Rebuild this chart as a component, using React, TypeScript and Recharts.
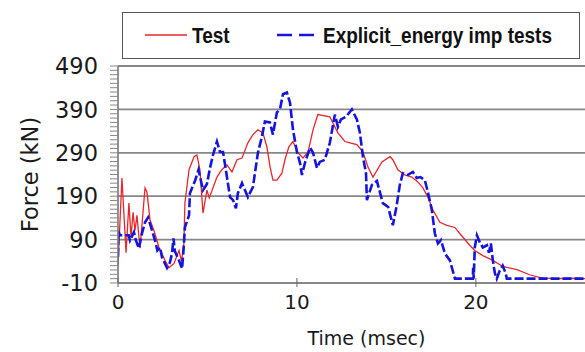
import { LineChart, Line, XAxis, YAxis, ReferenceLine, Legend } from 'recharts'

// measured impact force, test vs explicit simulation (time in msec, force in kN)
const testTime = [
  0, 0.22, 0.45, 0.61, 0.73, 0.84, 0.95, 1.06, 1.23, 1.51, 1.62, 1.79, 2.01, 2.29, 2.63, 2.85,
  3.13, 3.41, 3.55, 3.68, 3.74, 3.97, 4.25, 4.41, 4.58, 4.75, 4.97, 5.1, 5.53, 5.8, 6.09, 6.37,
  6.65, 6.93, 7.26, 7.54, 7.82, 8.1, 8.32, 8.5, 8.66, 8.88, 9.16, 9.33, 9.55, 9.78, 10.06, 10.34,
  10.62, 10.9, 11.17, 11.84, 12.0, 12.29, 12.68, 12.96, 13.35, 13.69, 13.97, 14.25, 14.75, 15.2,
  15.36, 15.64, 16.03, 16.42, 16.76, 17.04, 17.32, 17.6, 17.99, 18.38, 18.83, 19.1, 19.66, 19.94,
  20.39, 20.95, 21.5, 22.3, 23.0, 23.7, 24.5, 25.3, 26.1,
]
const testForce = [
  30, 232, 60, 174, 95, 153, 111, 146, 70, 209, 199, 135, 111, 72, 42, 25,
  35, 65, 40, 80, 174, 251, 281, 285, 251, 151, 204, 186, 234, 251, 262, 246,
  274, 278, 313, 332, 343, 336, 304, 257, 227, 227, 243, 274, 304, 316, 290, 278,
  292, 343, 378, 373, 360, 336, 316, 313, 309, 292, 257, 234, 269, 281,
  274, 251, 239, 234, 223, 209, 188, 158, 130, 123, 118, 104, 77, 65,
  53, 42, 28, 21, 9, 1, 0, 1, 0,
]

const explicitTime = [
  0, 0.02, 0.1, 0.6, 0.67, 0.89, 1.0, 1.17, 1.34, 1.51, 1.68, 1.85, 2.07, 2.2, 2.35, 2.46,
  2.74, 2.9, 3.02, 3.1, 3.18, 3.41, 3.58, 3.66, 3.74, 3.97, 4.02, 4.3, 4.5, 4.75, 4.97, 5.14,
  5.31, 5.53, 5.7, 5.87, 6.09, 6.26, 6.43, 6.59, 6.7, 6.93, 7.26, 7.54, 7.82, 8.04, 8.21, 8.49,
  8.66, 8.88, 9.05, 9.22, 9.44, 9.61, 9.78, 10.0, 10.17, 10.28, 10.45, 10.73, 10.9, 11.12, 11.28,
  11.56, 11.84, 12.12, 12.29, 12.46, 12.74, 13.07, 13.35, 13.52, 13.69, 13.86, 13.91, 14.19,
  14.47, 14.8, 15.1, 15.36, 15.56, 15.75, 15.92, 16.2, 16.48, 16.7, 16.9, 17.15, 17.32, 17.54,
  17.71, 17.88, 18.05, 18.27, 18.55, 18.83, 19.83, 19.85, 19.88, 19.94, 20.06, 20.23, 20.39,
  20.62, 20.73, 20.84, 20.95, 21.06, 21.17, 21.34, 21.5, 21.67, 21.73, 26.1,
]
const explicitForce = [
  50, 110, 100, 100, 88, 107, 88, 70, 104, 130, 141, 118, 88, 65, 72, 49,
  25, 37, 58, 93, 63, 42, 23, 65, 118, 146, 197, 225, 251, 204, 218, 255,
  285, 316, 292, 292, 234, 188, 181, 162, 197, 220, 188, 211, 290, 327, 362, 360,
  332, 383, 390, 425, 429, 406, 343, 292, 267, 239, 267, 302, 290, 255, 269,
  274, 313, 378, 350, 367, 373, 390, 367, 336, 281, 243, 181, 216,
  225, 174, 165, 123, 165, 216, 243, 239, 246, 232, 234, 227, 199, 158,
  104, 81, 89, 58, 42, 0, 0, 25, 0, 72, 100, 83, 72,
  77, 60, 81, 42, 13, 0, 19, 30, 12, 0, 0,
]

const testData = testTime.map((t, i) => ({ t, force: testForce[i] }))
const explicitData = explicitTime.map((t, i) => ({ t, force: explicitForce[i] }))

const forceTicks = [-10, 90, 190, 290, 390, 490]
const minorForceTicks = Array.from({ length: 51 }, (_, i) => -10 + i * 10)
const timeTicks = [0, 10, 20]

const series = [
  { name: 'Test', color: '#e8262b', width: 1.3, dash: undefined, data: testData },
  { name: 'Explicit_energy imp tests', color: '#1414dc', width: 2.6, dash: '9 3', data: explicitData },
]

const GRID = '#878787'
const AXIS_FONT = '"DejaVu Sans", Verdana, sans-serif'

function ForceTick({ x, y, payload }: any) {
  const major = forceTicks.includes(payload.value)
  return (
    <g>
      <line x1={x - 8} x2={x} y1={y} y2={y} stroke={GRID} strokeWidth={1} />
      {major && (
        <text x={x - 20} y={y} dy="0.36em" textAnchor="end" fontFamily={AXIS_FONT} fontSize={22.5} fill="#1a1a1a">
          {payload.value}
        </text>
      )}
    </g>
  )
}

function TimeTick({ x, y, payload }: any) {
  return (
    <g>
      <line x1={x} x2={x} y1={y - 5} y2={y + 4} stroke="#666" strokeWidth={1} />
      <text x={x} y={y + 26} textAnchor="middle" fontFamily={AXIS_FONT} fontSize={20} fill="#1a1a1a">
        {payload.value}
      </text>
    </g>
  )
}

function LegendBox() {
  const font = '"Liberation Sans", Arial, sans-serif'
  return (
    <svg width={460} height={48} style={{ display: 'block' }}>
      <rect x={0.5} y={0.5} width={457} height={46} fill="#fff" stroke="#555" />
      <line x1={23} x2={65} y1={23} y2={23} stroke={series[0].color} strokeWidth={1.3} />
      <text transform="translate(70,31) scale(1,1.18)" fontFamily={font} fontWeight="bold" fontSize={19} fill="#111">
        {series[0].name}
      </text>
      <line x1={155} x2={198} y1={23} y2={23} stroke={series[1].color} strokeWidth={2.6} strokeDasharray="15 7" />
      <text transform="translate(201,31) scale(1,1.18)" fontFamily={font} fontWeight="bold" fontSize={19} fill="#111">
        {series[1].name}
      </text>
    </svg>
  )
}

export default function App() {
  return (
    <div style={{ position: 'absolute', left: 0, top: 0, width: 585, height: 352, background: '#fff' }}>
      <LineChart width={585} height={352} margin={{ top: 18, right: 0, bottom: 0, left: 0 }}>
        {forceTicks.map((v) => (
          <ReferenceLine key={v} y={v} stroke={GRID} strokeWidth={1.8} />
        ))}
        <XAxis
          type="number"
          dataKey="t"
          domain={[0, 26.1]}
          ticks={timeTicks}
          allowDataOverflow
          height={69}
          tickSize={0}
          tickMargin={0}
          tickLine={false}
          axisLine={{ stroke: GRID, strokeWidth: 1.8 }}
          tick={<TimeTick />}
          label={{
            content: ({ viewBox }: any) => (
              <text
                x={viewBox.x + viewBox.width / 2 + 15}
                y={viewBox.y + 62}
                textAnchor="middle"
                fontFamily={AXIS_FONT}
                fontSize={19}
                fill="#1a1a1a"
              >
                Time (msec)
              </text>
            ),
          }}
        />
        <YAxis
          type="number"
          domain={[-10, 490]}
          ticks={minorForceTicks}
          interval={0}
          allowDataOverflow
          width={118}
          tickSize={0}
          tickMargin={0}
          tickLine={false}
          axisLine={{ stroke: '#777', strokeWidth: 1.6 }}
          tick={<ForceTick />}
          label={{
            content: ({ viewBox }: any) => (
              <text
                transform={`translate(38,${viewBox.y + viewBox.height / 2}) rotate(-90)`}
                textAnchor="middle"
                fontFamily={AXIS_FONT}
                fontSize={22.5}
                fill="#1a1a1a"
              >
                Force (kN)
              </text>
            ),
          }}
        />
        <Legend
          layout="horizontal"
          align="left"
          verticalAlign="top"
          height={48}
          wrapperStyle={{ top: 12, left: 122, width: 460, height: 48 }}
          content={() => <LegendBox />}
        />
        {series.map((s) => (
          <Line
            key={s.name}
            data={s.data}
            dataKey="force"
            name={s.name}
            type="linear"
            stroke={s.color}
            strokeWidth={s.width}
            strokeDasharray={s.dash}
            dot={false}
            activeDot={false}
            isAnimationActive={false}
          />
        ))}
      </LineChart>
    </div>
  )
}
